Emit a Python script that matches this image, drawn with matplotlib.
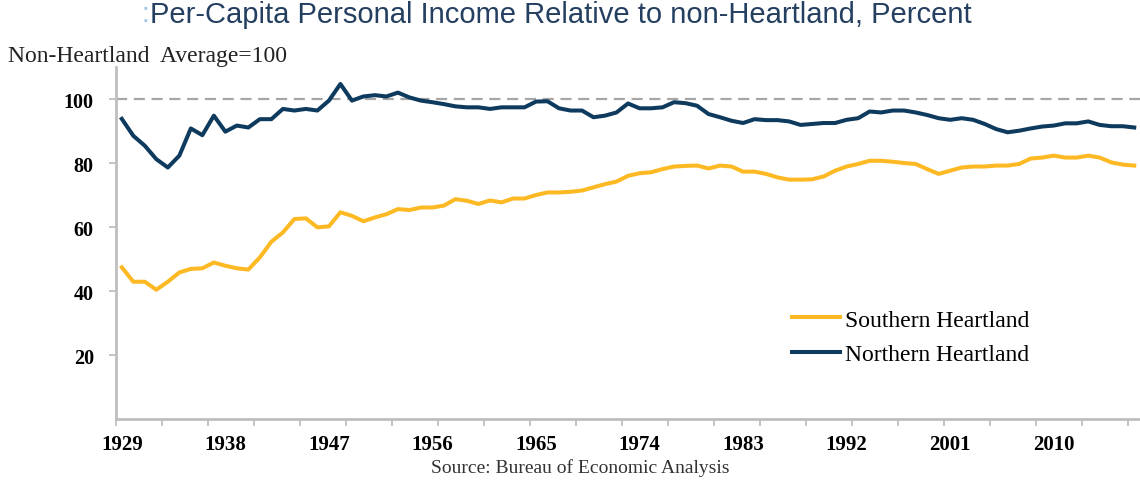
import matplotlib
matplotlib.use("Agg")
import matplotlib.pyplot as plt
import numpy as np

years = list(range(1929, 2018))

southern = [47.4, 42.9, 42.9, 40.4, 42.9, 45.8, 46.9, 47.1, 48.9, 47.9,
            47.1, 46.7, 50.5, 55.4, 58.3, 62.5, 62.7, 59.9, 60.2, 64.6,
            63.5, 61.8, 63.0, 64.0, 65.6, 65.3, 66.1, 66.1, 66.7, 68.7,
            68.2, 67.2, 68.3, 67.7, 68.9, 68.9, 70.0, 70.8, 70.8, 71.0,
            71.4, 72.4, 73.4, 74.2, 76.0, 76.8, 77.1, 78.1, 78.9, 79.1,
            79.2, 78.3, 79.2, 78.9, 77.3, 77.3, 76.6, 75.5, 74.8, 74.8,
            74.9, 75.8, 77.6, 78.9, 79.7, 80.7, 80.7, 80.4, 80.0, 79.7,
            78.1, 76.6, 77.6, 78.6, 78.9, 78.9, 79.2, 79.2, 79.7, 81.4,
            81.7, 82.3, 81.7, 81.7, 82.3, 81.7, 80.2, 79.5, 79.2]

northern = [93.8, 88.5, 85.4, 81.2, 78.6, 82.3, 90.8, 88.7, 94.8, 89.8,
            91.7, 91.1, 93.7, 93.7, 96.9, 96.4, 96.9, 96.4, 99.5, 104.7,
            99.5, 100.8, 101.2, 100.8, 102.0, 100.5, 99.5, 99.0, 98.4, 97.7,
            97.4, 97.4, 96.9, 97.4, 97.4, 97.4, 99.2, 99.3, 97.1, 96.4,
            96.4, 94.3, 94.8, 95.8, 98.6, 97.1, 97.1, 97.4, 99.0, 98.7,
            97.9, 95.3, 94.3, 93.2, 92.5, 93.7, 93.4, 93.4, 93.0, 91.9,
            92.2, 92.5, 92.5, 93.5, 94.0, 96.1, 95.8, 96.4, 96.4, 95.8,
            95.0, 94.0, 93.5, 94.0, 93.5, 92.2, 90.6, 89.6, 90.1, 90.8,
            91.4, 91.7, 92.4, 92.4, 93.0, 91.9, 91.5, 91.5, 91.1]

label_years = [1929, 1938, 1947, 1956, 1965, 1974, 1983, 1992, 2001, 2010]
y_ticks = [20, 40, 60, 80, 100]

serif = "Liberation Serif"
gold = "#FDB924"
navy = "#0E3A5E"
grey = "#BFBFBF"

fig = plt.figure(figsize=(11.4, 4.81), dpi=100)
ax = fig.add_axes([0.1018, 0.1268, 0.8982, 0.7318])

ax.axhline(100, color="#A6A6A6", lw=1.6, dashes=(5, 3), zorder=1)
ax.plot(years, southern, color=gold, lw=2.9, label="Southern Heartland", solid_joinstyle="round")
ax.plot(years, northern, color=navy, lw=2.9, label="Northern Heartland", solid_joinstyle="round")

ax.set_xlim(1928.5, 2017.5)
ax.set_ylim(0, 110)

ax.set_xticks(label_years)
ax.set_xticklabels([str(y) for y in label_years], fontfamily=serif, fontweight="bold", fontsize=15)
ax.set_xticks(np.arange(1928.5, 2018, 4), minor=True)
ax.tick_params(axis="x", which="major", length=0, pad=11)
ax.tick_params(axis="x", which="minor", length=5, width=1.3, color=grey)

ax.set_yticks(y_ticks)
ax.set_yticklabels([str(v) for v in y_ticks], fontfamily=serif, fontweight="bold", fontsize=14.5)
ax.tick_params(axis="y", length=5, width=1.3, color=grey, pad=11)

for s in ["top", "right"]:
    ax.spines[s].set_visible(False)
for s in ["left", "bottom"]:
    ax.spines[s].set_color(grey)
    ax.spines[s].set_linewidth(2)

leg = ax.legend(loc="center left", bbox_to_anchor=(792 / 1140, 1 - 338 / 481),
                bbox_transform=fig.transFigure, frameon=False,
                prop={"family": serif, "size": 17}, handlelength=2.05,
                handletextpad=0.2, labelspacing=0.55, borderpad=0, borderaxespad=0)

fig.text(141 / 1140, 1 - 15 / 481, ":", color="#9DC3E6", fontsize=20,
         fontfamily="Liberation Sans", va="center", ha="left")
fig.text(150 / 1140, 1 - 15 / 481, "Per-Capita Personal Income Relative to non-Heartland, Percent",
         color="#243F60", fontsize=21, fontfamily="Liberation Sans", va="center", ha="left")
fig.text(8 / 1140, 1 - 57 / 481, "Non-Heartland  Average=100", fontfamily=serif,
         fontsize=17, color="#222222", va="center", ha="left")
fig.text(580 / 1140, 1 - 468 / 481, "Source: Bureau of Economic Analysis", fontfamily=serif,
         fontsize=14, color="#333333", va="center", ha="center")

fig.savefig("out.png", dpi=100)
